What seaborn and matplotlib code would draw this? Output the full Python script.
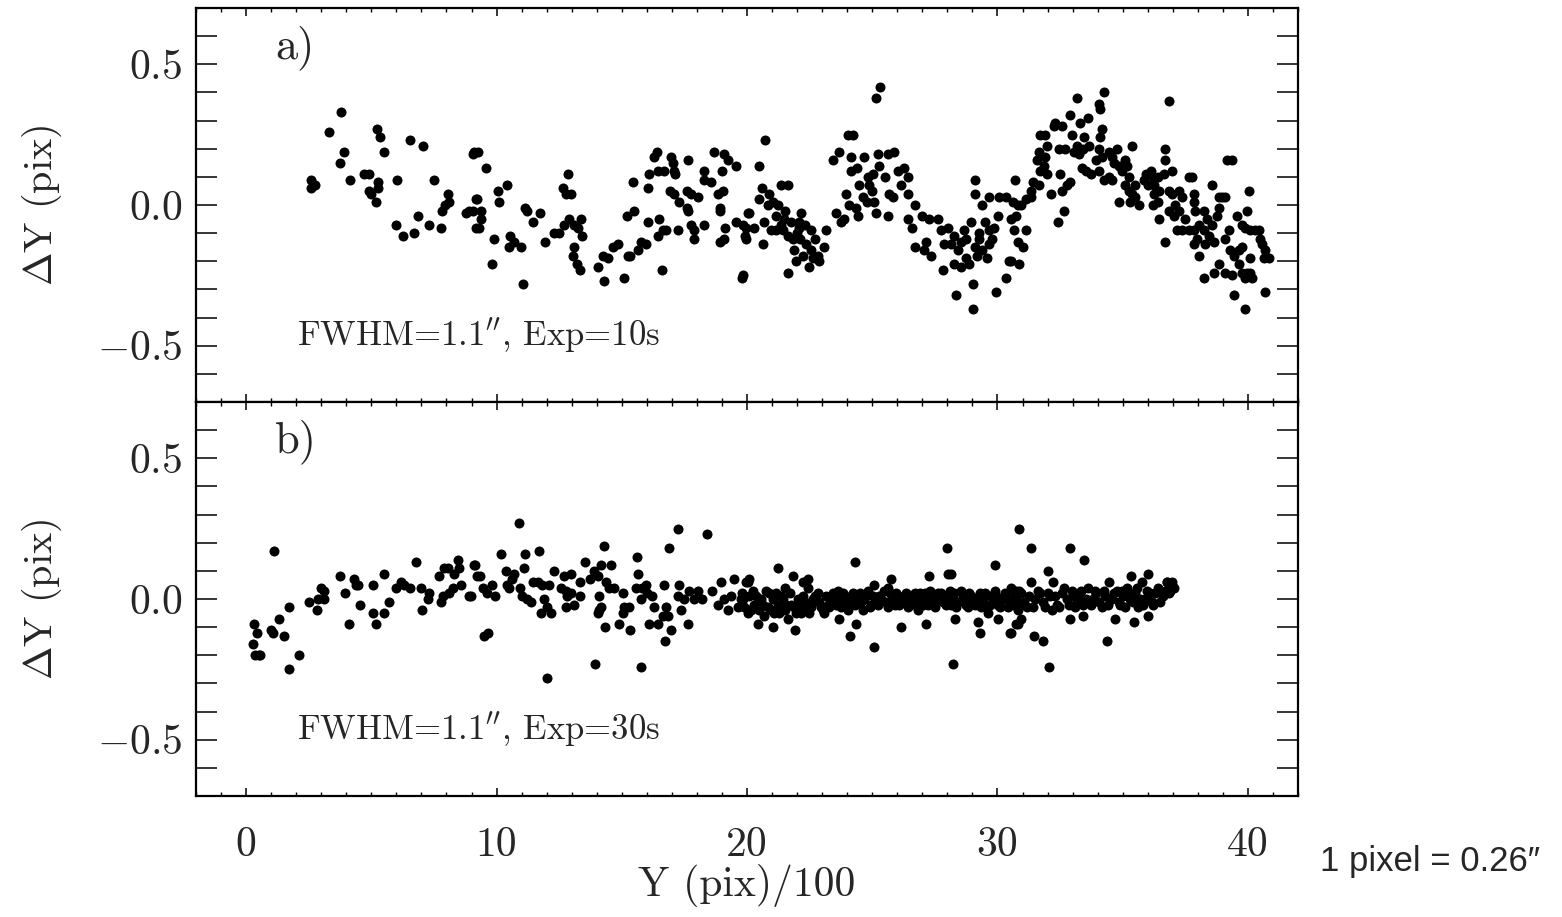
import matplotlib
matplotlib.use("Agg")
import matplotlib.pyplot as plt
import seaborn as sns
import pandas as pd
import numpy as np
from matplotlib.ticker import MultipleLocator, FixedLocator, FixedFormatter

# panel a) residuals, Exp=10s  (x = Y/100 pix, y = dY pix)
top_pts = [
    (2.61, 0.09), (2.61, 0.06), (2.76, 0.07), (3.79, 0.33), (3.31, 0.26), (3.89, 0.19), (3.75, 0.15),
    (4.13, 0.09), (4.72, 0.11), (4.92, 0.11), (5.28, 0.08), (5.28, 0.06), (4.92, 0.05), (5.00, 0.04),
    (5.20, 0.01), (5.24, 0.27), (5.36, 0.24), (5.52, 0.19), (6.03, 0.09), (6.53, 0.23), (7.08, 0.21),
    (7.52, 0.09), (5.99, -0.07), (6.27, -0.11), (6.69, -0.10), (6.85, -0.04), (7.32, -0.07), (7.80, -0.08),
    (7.84, -0.02), (7.96, 0.00), (8.10, 0.01), (8.08, 0.04), (8.79, -0.03), (8.92, -0.02), (9.05, 0.18),
    (9.17, 0.02), (9.17, -0.08),
    (9.09, 0.19), (9.25, 0.19), (9.56, 0.13), (9.21, 0.02), (9.05, -0.02), (9.37, -0.02), (9.37, -0.05),
    (9.29, -0.08), (10.04, 0.05), (10.08, 0.01), (10.40, 0.07), (9.88, -0.12), (9.80, -0.21), (10.52, -0.11),
    (10.68, -0.13), (10.48, -0.15), (10.99, -0.15), (11.07, -0.28), (11.15, -0.01), (11.23, -0.02),
    (11.45, -0.06), (11.73, -0.03), (11.93, -0.13), (12.28, -0.10), (12.48, -0.10), (12.84, 0.11),
    (12.64, 0.06), (12.76, 0.04), (12.96, 0.04), (12.88, -0.05), (12.68, -0.07), (13.08, -0.07),
    (13.39, -0.05), (13.24, -0.08), (13.43, -0.11), (13.08, -0.15), (13.04, -0.18), (13.20, -0.21),
    (13.35, -0.23), (14.05, -0.22), (14.29, -0.27), (14.25, -0.18), (14.45, -0.19), (14.64, -0.15),
    (14.84, -0.14), (15.08, -0.26), (15.24, -0.18), (15.32, -0.18), (15.20, -0.04), (15.48, -0.02),
    (15.44, 0.08), (15.64, -0.16), (15.76, -0.13), (15.95, -0.14), (16.03, 0.06), (16.03, -0.06),
    (16.07, 0.11), (16.27, 0.17), (16.41, 0.19), (16.49, -0.05), (16.45, -0.11), (16.65, -0.09),
    (16.77, -0.09), (16.61, -0.23), (16.45, 0.12), (16.69, 0.12), (16.97, 0.17), (17.05, 0.15),
    (17.08, 0.12), (17.12, 0.11), (16.93, 0.05), (17.08, 0.04), (17.28, 0.01), (17.24, -0.09),
    (17.64, 0.16), (17.60, 0.05), (17.76, 0.04), (18.04, 0.03), (17.60, -0.01), (17.64, -0.02),
    (17.76, -0.07), (17.88, -0.09), (17.88, -0.12), (18.28, -0.07), (18.28, 0.12), (18.28, 0.09),
    (18.55, 0.08), (18.67, 0.19), (19.09, 0.18), (19.25, 0.16), (19.57, 0.14), (19.01, 0.12),
    (19.05, 0.05), (18.83, 0.04), (18.91, -0.01), (18.91, -0.02), (19.13, -0.08), (19.09, -0.12),
    (18.91, -0.13), (19.57, -0.06), (19.96, -0.08), (19.96, -0.12), (20.04, -0.03), (19.80, -0.26),
    (19.84, -0.07), (19.92, -0.11), (20.28, -0.08), (20.08, -0.03), (19.84, -0.25), (20.72, 0.23),
    (20.48, 0.14), (20.60, 0.06), (20.48, 0.02), (20.87, 0.04), (21.03, 0.01), (21.23, 0.00),
    (20.83, 0.00), (20.68, -0.06), (20.95, -0.09), (21.15, -0.09), (21.35, -0.07), (21.45, -0.09),
    (21.65, -0.11), (21.85, -0.12), (20.64, -0.14), (21.35, 0.07), (21.65, 0.07), (21.15, -0.04),
    (21.49, -0.05), (21.77, -0.06), (22.09, -0.06), (22.16, -0.03), (22.09, -0.08), (22.12, -0.12),
    (21.89, -0.16), (21.97, -0.20), (22.24, -0.18), (22.36, -0.14), (22.56, -0.16), (22.48, -0.22),
    (22.64, -0.19), (22.84, -0.18), (22.88, -0.20), (23.08, -0.15), (23.16, -0.09), (22.56, -0.09),
    (21.65, -0.24), (23.43, 0.16), (23.67, 0.19), (24.05, 0.25), (24.25, 0.25), (23.55, -0.03),
    (23.75, -0.06), (23.87, -0.05), (23.95, 0.04), (24.09, 0.00), (24.17, 0.12), (24.17, 0.17),
    (24.49, 0.07), (24.37, -0.01), (24.45, -0.04), (24.68, 0.17), (24.84, 0.10), (24.88, 0.07),
    (25.04, 0.11), (25.24, 0.18), (25.28, 0.14), (25.08, 0.01), (25.16, -0.03), (24.80, 0.01),
    (24.64, 0.03), (25.16, 0.38), (25.32, 0.42), (25.64, 0.18), (25.87, 0.19), (25.68, 0.04),
    (25.64, -0.04), (25.84, 0.03), (26.03, 0.12), (26.15, 0.07), (26.27, 0.13), (26.43, 0.10),
    (26.43, 0.04), (26.69, 0.00), (26.43, -0.05), (26.57, -0.08), (26.69, -0.15), (26.97, -0.04),
    (27.28, -0.05), (27.64, -0.05), (27.05, -0.16), (27.36, -0.18), (27.16, -0.13), (27.84, -0.23),
    (27.76, -0.09), (28.04, -0.08), (28.28, -0.11), (27.88, -0.14), (28.16, -0.14), (28.43, -0.16),
    (28.28, -0.21), (28.55, -0.22), (28.75, -0.19), (28.87, -0.21), (29.09, -0.15), (29.25, -0.12),
    (28.95, -0.06), (29.09, 0.04), (29.09, 0.09), (29.37, 0.00), (29.49, -0.06), (29.65, -0.09),
    (29.65, -0.14), (29.57, -0.19), (29.88, -0.08), (30.04, -0.04), (29.65, 0.03), (30.08, 0.03),
    (30.36, 0.03), (30.56, -0.05), (30.84, 0.00), (28.36, -0.32), (29.01, -0.28), (29.01, -0.37),
    (29.96, -0.31), (30.36, -0.26), (30.48, -0.20), (30.72, 0.09),
    (28.56, -0.13), (28.76, -0.12), (29.18, -0.18), (29.38, -0.16), (29.78, -0.12), (28.66, -0.09),
    (29.28, -0.10), (22.00, -0.10), (22.30, -0.07), (22.70, -0.12), (21.50, -0.02), (25.50, 0.10),
    (25.00, 0.05), (24.40, 0.13),
    (30.64, 0.01), (30.76, -0.04), (30.68, -0.09), (30.84, -0.13), (31.03, -0.15), (31.15, -0.09),
    (30.88, -0.21), (30.56, -0.20), (30.95, 0.00), (31.15, 0.02), (31.35, 0.05), (31.43, 0.08),
    (31.65, 0.07), (31.35, 0.03), (31.69, 0.12), (31.57, 0.16), (31.85, 0.14), (31.65, 0.19),
    (31.89, 0.17), (31.97, 0.21), (31.69, 0.25), (31.89, 0.25), (32.24, 0.28), (32.28, 0.29),
    (32.56, 0.28), (32.44, 0.20), (32.68, 0.20), (31.97, 0.11), (32.13, 0.04), (32.48, 0.11),
    (32.56, 0.05), (32.76, 0.07), (32.88, 0.08), (32.64, -0.02), (32.40, -0.06),
    (32.88, 0.32), (33.16, 0.38), (32.96, 0.25), (33.28, 0.29), (33.16, 0.21), (33.04, 0.19),
    (33.24, 0.18), (33.43, 0.20), (33.63, 0.31), (33.47, 0.24), (33.67, 0.21), (33.36, 0.13),
    (33.55, 0.12), (33.75, 0.11), (34.05, 0.12), (34.05, 0.36), (34.09, 0.34), (34.25, 0.40),
    (34.17, 0.27), (34.09, 0.24), (34.05, 0.20), (33.95, 0.16), (34.17, 0.17), (34.25, 0.09),
    (34.45, 0.10), (34.57, 0.09), (34.45, 0.19), (34.57, 0.17), (34.76, 0.20), (34.65, 0.15),
    (34.84, 0.14), (34.96, 0.12), (35.08, 0.16), (35.16, 0.14), (35.24, 0.10), (34.84, 0.01),
    (35.08, 0.07), (35.24, 0.05), (35.36, 0.04), (35.28, 0.01), (35.48, 0.03), (35.64, 0.00),
    (35.48, 0.07), (35.36, 0.21),
    (35.84, 0.09), (35.95, 0.11), (36.15, 0.12), (36.23, 0.10), (36.03, 0.07), (36.27, 0.07),
    (36.43, 0.10), (36.27, 0.04), (36.47, 0.05), (36.23, 0.00), (36.43, 0.01), (36.65, 0.11),
    (36.69, 0.20), (36.69, 0.16), (36.97, 0.12), (36.85, 0.05), (36.97, 0.04), (37.24, 0.05),
    (37.09, 0.00), (36.85, -0.02), (37.05, -0.04), (37.24, -0.02), (37.36, 0.03), (36.47, -0.05),
    (36.69, -0.13), (37.17, -0.09), (37.48, -0.05), (37.64, 0.10), (37.76, 0.10), (36.85, 0.37),
    (37.84, 0.04), (37.84, 0.01), (37.88, -0.02), (37.36, -0.09), (37.64, -0.09), (37.84, -0.09),
    (38.04, -0.07), (38.24, -0.02), (38.36, -0.05), (38.24, -0.09), (37.96, -0.12), (37.84, -0.14),
    (38.04, -0.18), (38.28, -0.14), (38.44, -0.11), (38.63, -0.13), (38.55, -0.07), (38.75, -0.04),
    (38.83, -0.01), (38.83, 0.03), (38.97, 0.03), (39.09, 0.03), (38.55, 0.07), (39.17, 0.16),
    (39.37, 0.16),
    (38.24, -0.26), (38.63, -0.24), (38.83, -0.21), (39.09, -0.24), (39.29, -0.16), (39.37, -0.25),
    (39.45, -0.32), (39.45, -0.18), (39.65, -0.16), (39.76, -0.15), (39.65, -0.21), (39.76, -0.24),
    (39.88, -0.26), (39.96, -0.24), (40.08, -0.24), (40.16, -0.26), (40.08, -0.19), (39.88, -0.37),
    (39.57, -0.04), (39.76, -0.07), (39.88, -0.08), (40.04, 0.05), (39.96, -0.02), (40.08, -0.09),
    (40.28, -0.09), (40.44, -0.09), (40.48, -0.12), (40.56, -0.14), (40.68, -0.16), (40.64, -0.19),
    (40.84, -0.19), (40.68, -0.31), (39.25, -0.09), (39.09, -0.12),
]

# panel b) residuals, Exp=30s
bot_pts = [
    (0.30, -0.09), (0.42, -0.12), (0.26, -0.16), (0.34, -0.20), (0.50, -0.20), (0.54, -0.20), (1.13, 0.17),
    (1.01, -0.11), (1.09, -0.12), (1.33, -0.07), (1.53, -0.13), (1.73, -0.03), (1.73, -0.25), (2.12, -0.20),
    (2.52, -0.01), (2.84, -0.04), (2.88, 0.00), (3.00, 0.04), (3.12, 0.03), (3.12, 0.00), (3.75, 0.08),
    (3.93, 0.02), (4.09, -0.09), (4.29, 0.07), (4.37, 0.05), (4.48, 0.05), (4.56, -0.02), (5.08, 0.05),
    (5.08, -0.05), (5.20, -0.09), (5.52, 0.09), (5.52, -0.05), (5.71, -0.01), (5.99, 0.04), (6.19, 0.06),
    (6.31, 0.05), (6.53, 0.04), (6.77, 0.13), (7.00, 0.04), (7.04, -0.04), (7.28, 0.00), (7.32, 0.02),
    (7.72, 0.08), (7.80, -0.01), (7.88, 0.01), (7.92, 0.11), (8.08, 0.11), (8.12, 0.02), (8.27, 0.04),
    (8.31, 0.09), (8.47, 0.14), (8.51, 0.11), (8.59, 0.05), (8.89, 0.01), (9.09, 0.12), (9.21, 0.08),
    (9.13, 0.12), (9.33, 0.08), (8.97, 0.01), (9.45, 0.04), (9.60, 0.02), (9.80, 0.05), (9.92, 0.01),
    (9.49, -0.13), (9.64, -0.12), (10.16, 0.16), (10.36, 0.10), (10.40, 0.05), (10.62, 0.07), (10.69, 0.09),
    (10.49, 0.04), (10.89, 0.27), (11.09, 0.11), (11.15, 0.16), (10.95, 0.04), (11.02, 0.01), (11.22, 0.00),
    (11.37, -0.01), (11.44, 0.06), (11.64, 0.06), (11.70, 0.17), (11.83, 0.05), (11.90, 0.00), (12.10, 0.05),
    (11.77, -0.05), (12.03, -0.03), (12.16, -0.05), (12.01, -0.28), (12.30, 0.10), (12.56, 0.04),
    (12.69, 0.08), (12.76, 0.03), (12.96, 0.09), (12.83, 0.01), (12.76, -0.03), (12.96, 0.02),
    (13.09, -0.02), (13.35, 0.06), (13.35, 0.01), (13.55, 0.13), (13.75, 0.07), (13.90, 0.10),
    (14.04, 0.08), (14.17, 0.12), (14.30, 0.19), (14.37, 0.06), (14.56, 0.12), (14.50, 0.04),
    (14.70, 0.04), (14.10, 0.01), (14.10, -0.04), (14.17, -0.03), (14.04, -0.05), (14.34, -0.10),
    (13.93, -0.23), (14.90, -0.09), (15.03, 0.02), (15.09, -0.03), (15.03, -0.05), (15.29, -0.03),
    (15.33, -0.11), (15.62, 0.15), (15.66, 0.09), (15.56, 0.04), (15.76, 0.00), (15.82, 0.04),
    (15.95, 0.05), (16.02, 0.02), (16.22, 0.01), (16.09, -0.09), (16.28, -0.03), (16.44, -0.09),
    (16.64, -0.06), (16.70, 0.05), (16.77, -0.03), (16.83, -0.06), (16.97, -0.11), (16.73, -0.15),
    (16.90, 0.18), (17.23, 0.25), (17.30, 0.05), (17.23, 0.01), (17.36, -0.04), (17.49, 0.00),
    (17.69, 0.03), (17.63, -0.09), (17.89, 0.00), (18.03, 0.03), (18.22, 0.00), (18.42, 0.23),
    (18.62, 0.03), (18.84, -0.02), (18.97, 0.06), (19.10, 0.00), (19.24, -0.04), (19.37, 0.01),
    (19.50, 0.07), (19.63, -0.03), (19.83, 0.00), (20.03, 0.06), (20.09, -0.04), (15.78, -0.24),
    (21.24, 0.11), (19.96, 0.06), (20.09, 0.07), (20.89, 0.02), (21.83, 0.08), (22.23, 0.06),
    (22.43, 0.07), (22.43, 0.04), (21.50, 0.04), (24.30, 0.13), (20.42, -0.09), (21.02, -0.10),
    (21.90, -0.11), (23.68, -0.07), (24.37, -0.09), (24.10, -0.13), (25.07, -0.17), (25.07, 0.05),
    (25.76, 0.07), (25.62, 0.04), (26.13, -0.10), (27.13, -0.09), (28.29, -0.07), (28.22, -0.23),
    (27.27, 0.08), (28.00, 0.18), (28.03, 0.09), (28.16, 0.09), (29.24, -0.08), (29.30, -0.12),
    (29.63, -0.05), (30.03, -0.07), (30.49, -0.12), (30.76, -0.09), (29.90, 0.12), (30.85, 0.25),
    (19.76, 0.00), (19.89, -0.03), (20.02, -0.05), (20.09, 0.01), (20.22, 0.03), (20.29, -0.02),
    (20.49, -0.04), (20.55, 0.00), (20.69, -0.06), (20.82, -0.03), (21.02, 0.00), (21.08, -0.05),
    (21.22, -0.02), (21.37, 0.01), (21.50, -0.04), (21.63, -0.07), (21.76, -0.02), (21.96, -0.05),
    (22.09, -0.02), (22.23, 0.01), (22.36, -0.03), (22.49, -0.05), (22.62, 0.00), (22.82, 0.02),
    (22.95, -0.03), (23.09, -0.05), (23.22, -0.02), (23.35, 0.01), (23.48, 0.00), (23.62, 0.03),
    (23.77, -0.03), (23.90, 0.00), (24.03, -0.04), (24.17, 0.01), (24.30, -0.02), (24.50, 0.02),
    (24.63, -0.04), (24.69, 0.00), (24.83, 0.03), (24.96, -0.02), (25.16, 0.00), (25.29, 0.01),
    (25.49, 0.03), (25.62, -0.03), (25.82, 0.00), (25.95, 0.02), (26.08, -0.02), (26.28, 0.01),
    (26.41, -0.03), (26.57, 0.00), (26.70, 0.02), (26.83, -0.04), (26.96, 0.00), (27.10, 0.02),
    (27.23, -0.02), (27.36, 0.01), (27.49, -0.03), (27.69, 0.00), (27.76, 0.02), (27.95, -0.02),
    (28.09, 0.03), (28.22, 0.00), (28.35, -0.03), (28.55, 0.03), (28.68, 0.00), (28.81, -0.03),
    (28.95, 0.01), (29.10, -0.02), (29.30, 0.02), (29.43, 0.00), (29.56, -0.03), (29.76, 0.01),
    (29.89, 0.03), (30.03, -0.02), (30.16, 0.00), (30.29, 0.02), (30.42, -0.03), (30.62, 0.00),
    (30.75, 0.03), (30.88, -0.02),
    (19.82, 0.02), (20.15, -0.04), (20.35, 0.01), (20.62, -0.02), (20.75, 0.03), (20.95, -0.04),
    (21.15, 0.02), (21.28, -0.05), (21.42, 0.00), (21.57, -0.02), (21.70, 0.02), (21.88, -0.03),
    (22.02, 0.00), (22.17, -0.05), (22.30, -0.01), (22.55, -0.03), (22.70, 0.01), (22.88, -0.01),
    (23.02, -0.04), (23.16, 0.01), (23.29, -0.03), (23.42, 0.02), (23.55, -0.02), (23.69, 0.00),
    (23.83, 0.02), (23.97, -0.02), (24.10, 0.00), (24.24, 0.02), (24.37, 0.00), (24.57, -0.01),
    (24.76, 0.01), (24.90, -0.03), (25.04, 0.01), (25.22, -0.02), (25.36, 0.00), (25.55, -0.01),
    (25.69, 0.02), (25.89, -0.02), (26.02, 0.01), (26.21, -0.01), (26.34, 0.02), (26.50, -0.02),
    (26.63, 0.01), (26.76, -0.01), (26.89, 0.02), (27.03, -0.02), (27.16, 0.00), (27.30, 0.03),
    (27.43, -0.01), (27.62, 0.02), (27.82, -0.01), (28.02, 0.01), (28.16, -0.02), (28.28, 0.02),
    (28.42, -0.01), (28.62, 0.01), (28.75, -0.02), (28.88, 0.02), (29.01, -0.01), (29.23, 0.00),
    (29.36, -0.03), (29.50, 0.02), (29.69, -0.02), (29.83, 0.00), (29.96, 0.01), (30.09, -0.03),
    (30.23, 0.00), (30.36, 0.01), (30.55, -0.01), (30.68, 0.01), (30.82, -0.04),
    (31.32, 0.18), (32.89, 0.18), (33.46, 0.14), (32.01, 0.10), (30.56, -0.12), (31.46, -0.13),
    (31.83, -0.15), (32.06, -0.24), (34.37, -0.15), (30.82, -0.09), (30.95, -0.07), (32.89, -0.07),
    (33.42, -0.06), (34.70, -0.07), (35.46, -0.08), (36.02, -0.06), (34.46, 0.06), (35.33, 0.08),
    (36.02, 0.09), (36.77, 0.06), (36.97, 0.06),
    (30.56, 0.04), (30.76, 0.00), (30.96, 0.02), (31.16, -0.03), (31.35, 0.06), (31.49, 0.00),
    (31.70, 0.02), (31.90, -0.03), (32.10, 0.01), (32.23, 0.06), (32.37, -0.02), (32.56, 0.02),
    (32.76, 0.00), (32.96, 0.03), (33.09, -0.03), (33.23, 0.01), (33.42, -0.02), (33.62, 0.04),
    (33.82, 0.00), (33.95, 0.02), (34.17, -0.03), (34.30, 0.01), (34.57, 0.00), (34.77, 0.03),
    (34.90, -0.02), (35.03, 0.01), (35.16, 0.04), (35.30, 0.00), (35.49, 0.02), (35.63, -0.03),
    (35.76, 0.06), (35.89, 0.00), (36.09, 0.02), (36.22, -0.02), (36.42, 0.04), (36.62, 0.01),
    (36.77, 0.06), (36.90, 0.03),
    (30.66, -0.02), (30.86, 0.03), (31.06, -0.01), (31.26, 0.01), (31.42, -0.03), (31.60, 0.03),
    (31.80, -0.01), (32.00, 0.02), (32.16, -0.04), (32.30, 0.01), (32.46, -0.03), (32.66, 0.04),
    (32.86, -0.02), (33.02, 0.01), (33.16, -0.01), (33.32, 0.03), (33.52, 0.00), (33.72, -0.02),
    (33.88, 0.03), (34.07, -0.01), (34.24, 0.03), (34.42, -0.02), (34.67, 0.02), (34.84, -0.01),
    (34.96, 0.03), (35.10, -0.03), (35.24, 0.02), (35.40, -0.01), (35.56, 0.04), (35.70, 0.00),
    (35.82, -0.02), (35.96, 0.03), (36.16, -0.01), (36.30, 0.02), (36.50, -0.01), (36.70, 0.03),
    (36.84, 0.02), (36.96, 0.05), (37.04, 0.04),
]

panel_tags = ["a)", "b)"]
panel_notes = [r"FWHM=1.1$^{\prime\prime}$, Exp=10s", r"FWHM=1.1$^{\prime\prime}$, Exp=30s"]
y_ticks = [-0.5, 0.0, 0.5]
y_ticklabels = [r"$-0.5$", r"$0.0$", r"$0.5$"]
x_ticks = [0, 10, 20, 30, 40]
x_ticklabels = ["0", "10", "20", "30", "40"]

sns.set_style("ticks")
plt.rcParams["font.family"] = "cmr10"
plt.rcParams["mathtext.fontset"] = "cm"
plt.rcParams["axes.formatter.use_mathtext"] = True
plt.rcParams["axes.linewidth"] = 1.6

fig = plt.figure(figsize=(15.62, 9.17), dpi=100)
ax_top = fig.add_axes([196 / 1562, 1 - 402 / 917, 1102 / 1562, 394 / 917])
ax_bot = fig.add_axes([196 / 1562, 1 - 796 / 917, 1102 / 1562, 394 / 917])

for ax, pts, tag, note in zip([ax_top, ax_bot], [top_pts, bot_pts], panel_tags, panel_notes):
    df = pd.DataFrame(pts, columns=["x", "y"])
    sns.scatterplot(data=df, x="x", y="y", ax=ax, color="black", s=52, linewidth=0, legend=False)
    ax.set_xlim(-2, 42)
    ax.set_ylim(-0.7, 0.7)
    ax.yaxis.set_major_locator(FixedLocator(y_ticks))
    ax.yaxis.set_major_formatter(FixedFormatter(y_ticklabels))
    ax.yaxis.set_minor_locator(MultipleLocator(0.1))
    ax.xaxis.set_major_locator(FixedLocator(x_ticks))
    ax.xaxis.set_major_formatter(FixedFormatter(x_ticklabels))
    ax.xaxis.set_minor_locator(MultipleLocator(1))
    ax.tick_params(axis="both", which="both", direction="in", top=True, right=True, color="black")
    ax.tick_params(axis="y", which="both", length=15, width=1.1, labelsize=30, pad=10)
    ax.tick_params(axis="x", which="major", length=5.5, width=1.1, labelsize=30, pad=22)
    ax.tick_params(axis="x", which="minor", length=3, width=1.0)
    for sp in ax.spines.values():
        sp.set_linewidth(1.6)
        sp.set_color("black")
    ax.set_ylabel(r"$\Delta$Y (pix)", fontsize=29)
    ax.yaxis.set_label_coords(-0.14, 0.5)
    ax.yaxis.label.set_va("center")
    ax.set_xlabel("")
    ax.text(1.16, 0.56, tag, fontsize=32, ha="left", va="center")
    ax.text(2.04, -0.465, note, fontsize=25, ha="left", va="center")

ax_top.tick_params(axis="x", labelbottom=False)
ax_bot.set_xlabel("Y (pix)/100", fontsize=30)
ax_bot.xaxis.set_label_coords(0.5, -0.226)
ax_bot.xaxis.label.set_va("center")

fig.text(1320 / 1562, 1 - 862 / 917, "1 pixel = 0.26\u2033", fontsize=25, ha="left", va="center",
         family=["Liberation Sans Narrow", "Liberation Sans", "DejaVu Sans"])

fig.savefig("out.png", dpi=100)
